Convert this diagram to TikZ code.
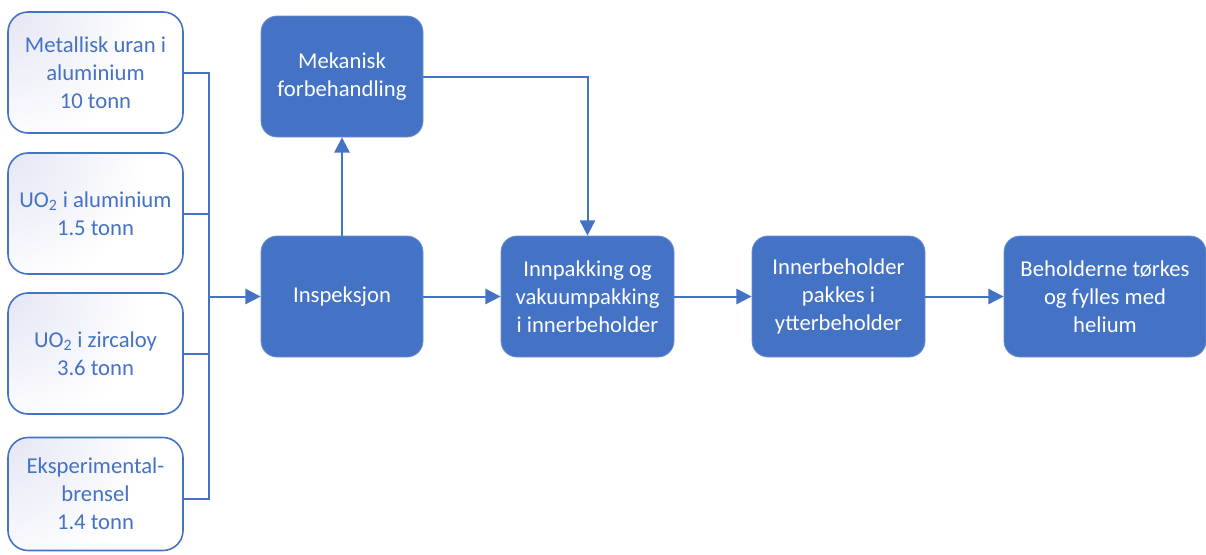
\documentclass[tikz,border=0pt]{standalone}
\usepackage{fontspec}
\setmainfont{Carlito}
\usetikzlibrary{arrows.meta}
\definecolor{accent}{HTML}{4472C4}
\definecolor{accentedge}{HTML}{6C8FD0}
\definecolor{haze}{HTML}{E4E6F4}
% faint tint that fades out from one corner
\pgfdeclareradialshading{cornerhaze}{\pgfpoint{0bp}{0bp}}{%
  color(0bp)=(haze); color(13bp)=(white); color(50bp)=(white)}
\tikzset{
  source/.style={draw=accent, line width=1.2pt, rounded corners=15pt, fill=white,
    path picture={\shade[shading=cornerhaze]
      (path picture bounding box.north west) circle (200pt);},
    text=accent, align=center, inner sep=0pt,
    font=\fontsize{17}{21}\selectfont},
  stage/.style={fill=accent, draw=accentedge, line width=0.6pt, rounded corners=12pt,
    text=white, align=center, inner sep=0pt,
    font=\fontsize{17}{21}\selectfont},
  flow/.style={draw=accent, line width=1.5pt},
  flowarrow/.style={flow, -{Triangle[length=11.5pt,width=11.5pt]}},
}
\begin{document}
\begin{tikzpicture}[x=0.75pt, y=-0.75pt]
\useasboundingbox (0,0) rectangle (1206,554);

% incoming fuel categories
\node[source, minimum width=131.25pt, minimum height=90.75pt] (m1) at (95.5,72.5)
  {Metallisk uran i\\aluminium\\10 tonn};
\node[source, minimum width=131.25pt, minimum height=90.75pt] (m2) at (95.5,213.5)
  {UO\textsubscript{2} i aluminium\\1.5 tonn};
\node[source, minimum width=131.25pt, minimum height=90.75pt] (m3) at (95.5,353.5)
  {UO\textsubscript{2} i zircaloy\\3.6 tonn};
\node[source, minimum width=131.25pt, minimum height=84.75pt] (m4) at (95.5,494)
  {Eksperimental-\\brensel\\1.4 tonn};

% process stages
\node[stage, minimum width=121.5pt, minimum height=90.75pt] (mek) at (342,76.5)
  {Mekanisk\\forbehandling};
\node[stage, minimum width=121.5pt, minimum height=90.75pt] (insp) at (342,296.5)
  {Inspeksjon};
\node[stage, minimum width=129.75pt, minimum height=90.75pt] (innp) at (587.5,296.5)
  {Innpakking og\\vakuumpakking\\i innerbeholder};
\node[stage, minimum width=129.75pt, minimum height=90.75pt] (inner) at (838.5,296.5)
  {Innerbeholder\\pakkes i\\ytterbeholder};
\node[stage, minimum width=151.5pt, minimum height=90.75pt] (dry) at (1105,296.5)
  {Beholderne tørkes\\og fylles med\\helium};

% collector bus from the fuel categories
\coordinate (bus1) at (209,72.5);
\coordinate (bus4) at (209,499);
\coordinate (busout) at (209,296.5);
\draw[flow] (m1.east |- bus1) -- (bus1) -- (bus4) -- (m4.east |- bus4);
\draw[flow] (m2.east) -- (m2.east -| bus1);
\draw[flow] (m3.east) -- (m3.east -| bus1);
\draw[flowarrow] (busout) -- (insp.west);

% main line
\draw[flowarrow] (insp.north) -- (mek.south);
\coordinate (turn) at (587.5,76.5);
\draw[flowarrow] (mek.east) -- (turn) -- (innp.north);
\draw[flowarrow] (insp.east) -- (innp.west);
\draw[flowarrow] (innp.east) -- (inner.west);
\draw[flowarrow] (inner.east) -- (dry.west);
\end{tikzpicture}
\end{document}
